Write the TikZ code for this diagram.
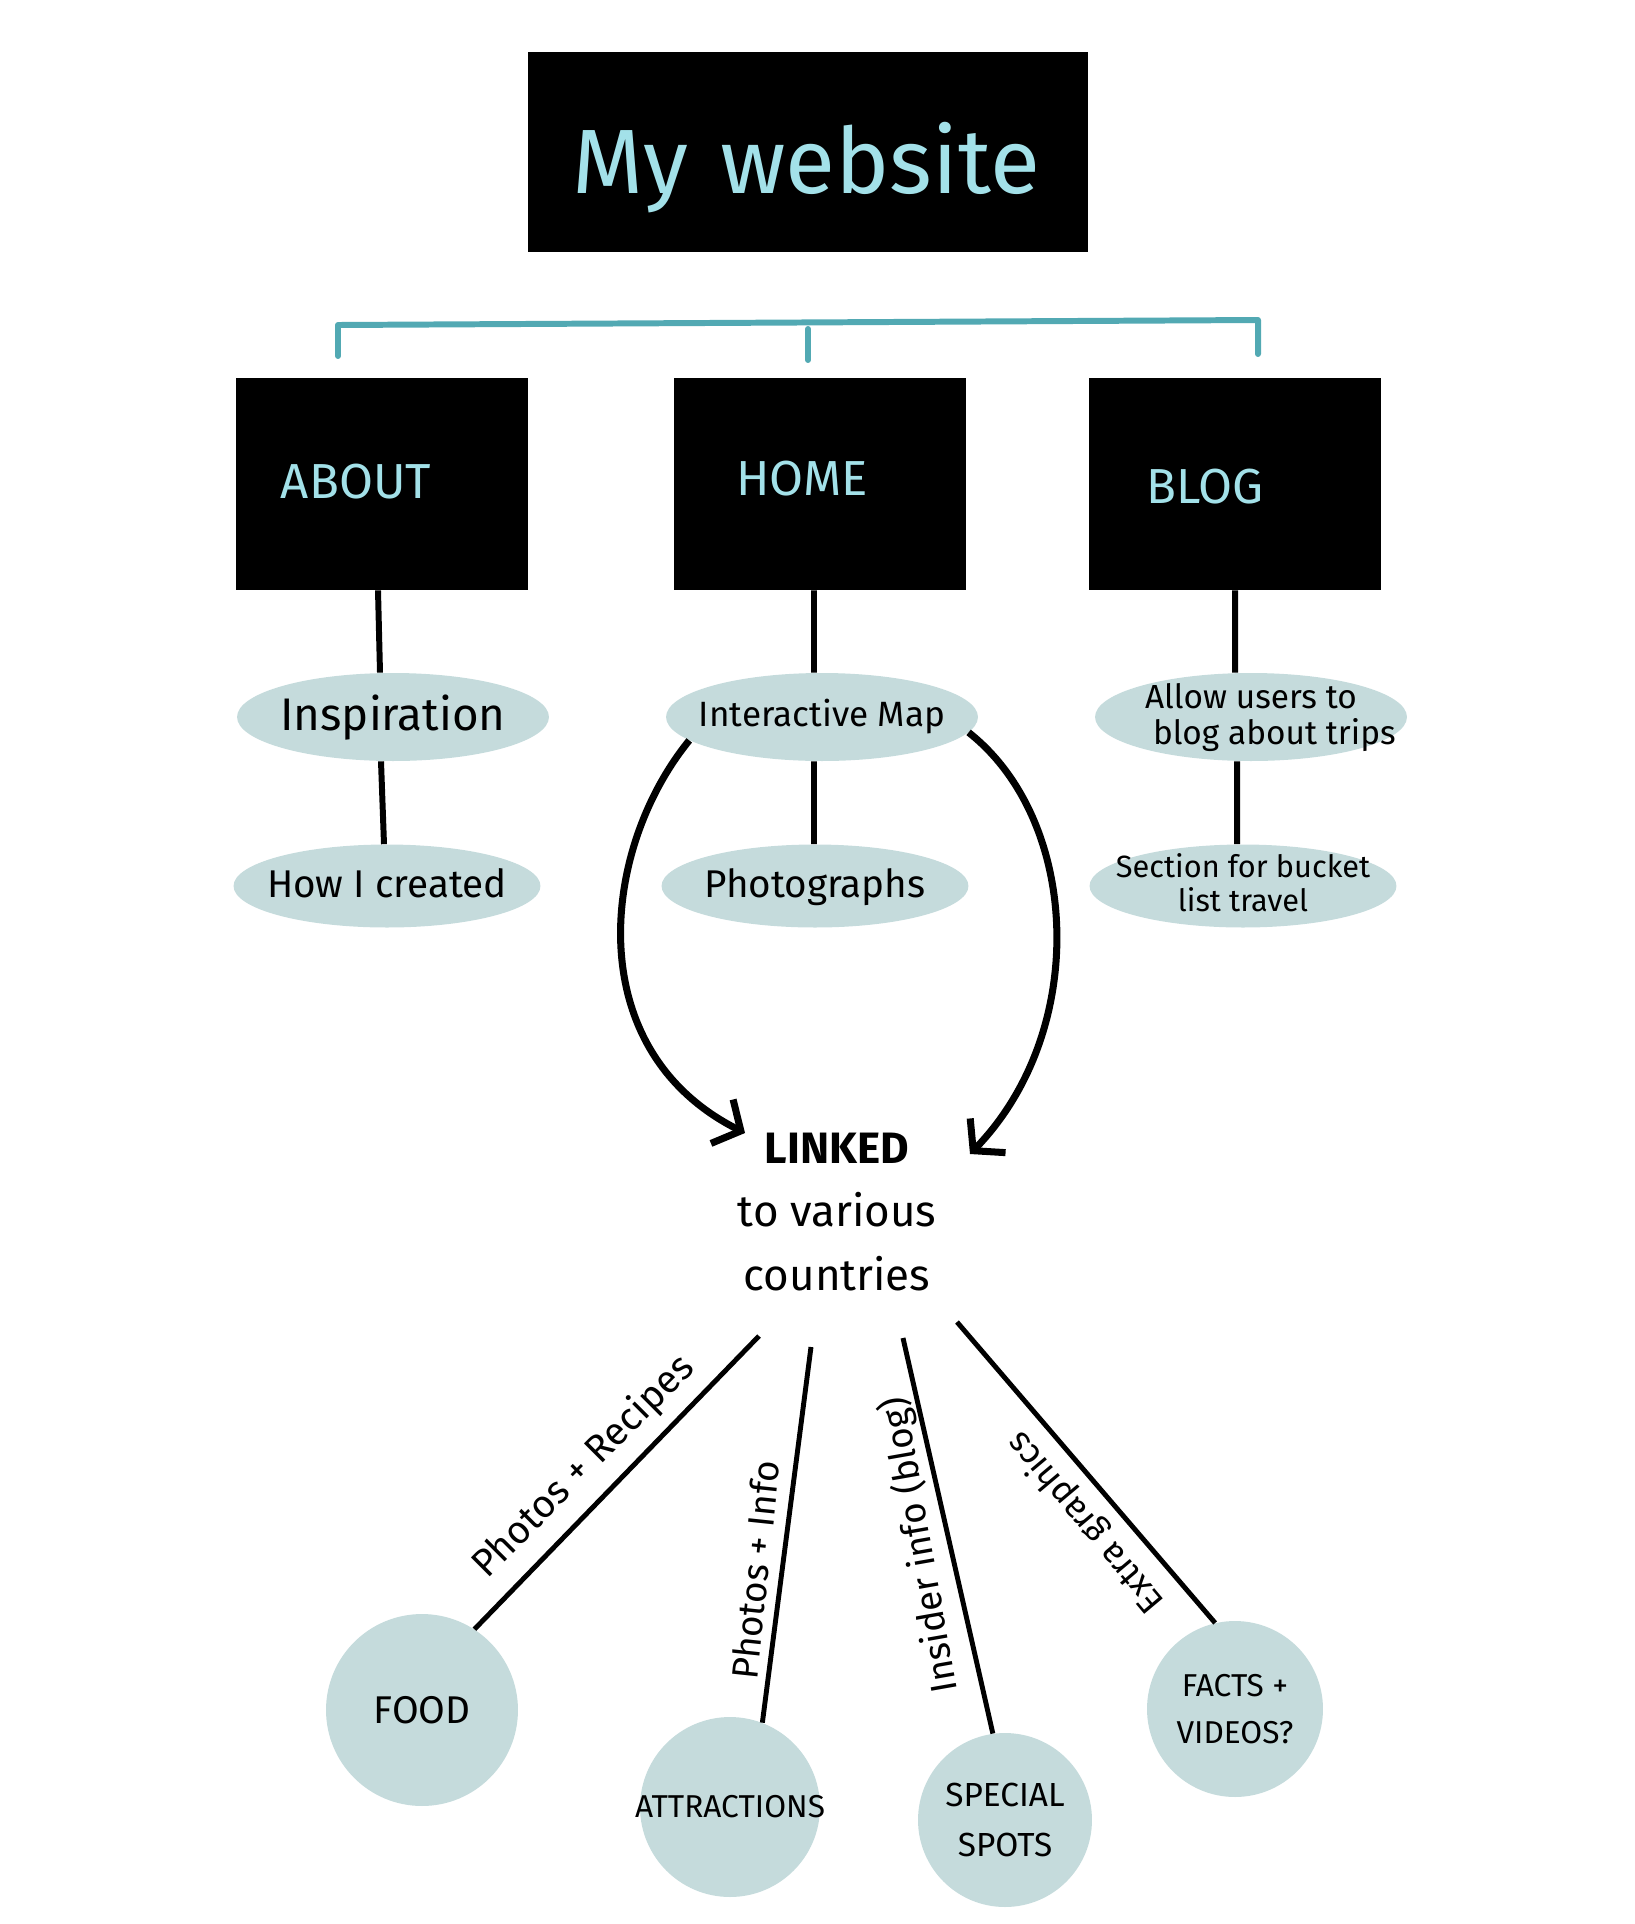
\documentclass[tikz,border=0pt]{standalone}
\usepackage{fontspec}
\setmainfont{Fira Sans}
\usetikzlibrary{shapes.geometric,arrows.meta}
\definecolor{ovalc}{HTML}{C5DBDC}
\definecolor{titlec}{HTML}{A3E1E9}
\definecolor{tealc}{HTML}{52A9B3}
\newcommand{\fs}[1]{\fontsize{#1}{#1}\selectfont}
% text that does not enlarge its shape
\newcommand{\zt}[1]{\smash{\makebox[0pt]{\raisebox{-0.3em}{\begin{tabular}{@{}c@{}}#1\end{tabular}}}}}
\begin{document}
\begin{tikzpicture}[x=0.02cm,y=-0.02cm,
  blackbox/.style={fill=black, draw=none, inner sep=0pt, minimum width=5.84cm, minimum height=4.24cm},
  boxtext/.style={text=titlec, font=\fs{28}, inner sep=0pt},
  oval/.style={ellipse, fill=ovalc, draw=none, inner sep=0pt, align=center},
  ball/.style={circle, fill=ovalc, draw=none, inner sep=0pt, align=center},
  conn/.style={line width=3.4pt},
  spoke/.style={line width=2.8pt},
  bracket/.style={line width=3.4pt, draw=tealc, line cap=round, line join=round},
  bigarrow/.style={line width=4pt, -{Straight Barb[length=12pt,width=28pt]}},
  lab/.style={inner sep=0pt}
]
\useasboundingbox (0,0) rectangle (1635,1924);

% title
\node[fill=black, inner sep=0pt, minimum width=11.22cm, minimum height=4.02cm] (title) at (808,152) {};
\node[text=titlec, font=\fs{52}, inner sep=0pt] (titleT) at (806,168) {My\hspace{0.35em}website};

% bracket
\coordinate (bl) at (338,325);
\coordinate (br) at (1258,320);
\coordinate (bm) at (808,329);
\draw[bracket] (338,356) -- (bl) -- (br) -- (1258,354);
\draw[bracket] (bm) -- (808,360);

% boxes
\node[blackbox] (about) at (382,484) {};
\node[blackbox] (home) at (820,484) {};
\node[blackbox] (blog) at (1235,484) {};
\node[boxtext] (aboutT) at (356,482) {ABOUT};
\node[boxtext] (homeT) at (802,479) {HOME};
\node[boxtext] (blogT) at (1205,487) {BLOG};

% ovals
\node[oval, minimum width=6.24cm, minimum height=1.76cm, font=\fs{26}] (insp) at (393,717) {\zt{Inspiration}};
\node[oval, minimum width=6.14cm, minimum height=1.66cm, font=\fs{22}] (how) at (387,886) {\zt{How I created}};
\node[oval, minimum width=6.24cm, minimum height=1.76cm, font=\fs{20}] (imap) at (822,717) {\zt{Interactive Map}};
\node[oval, minimum width=6.14cm, minimum height=1.66cm, font=\fs{22}] (photo) at (815,886) {\zt{Photographs}};
\node[oval, minimum width=6.24cm, minimum height=1.76cm, font=\fontsize{19}{20}\selectfont] (allow) at (1251,717) {\zt{Allow users to\\ \hspace*{1.4em}blog about trips}};
\node[oval, minimum width=6.14cm, minimum height=1.66cm, font=\fontsize{17.5}{18.5}\selectfont] (section) at (1243,886) {\zt{Section for bucket\\ list travel}};

% vertical connectors
\draw[conn] ([xshift=-0.08cm]about.south) -- ([xshift=-0.26cm]insp.north);
\draw[conn] ([xshift=-0.24cm]insp.south) -- ([xshift=-0.06cm]how.north);
\draw[conn] ([xshift=-0.12cm]home.south) -- ([xshift=-0.16cm]imap.north);
\draw[conn] ([xshift=-0.16cm]imap.south) -- ([xshift=-0.02cm]photo.north);
\draw[conn] (blog.south) -- ([xshift=-0.32cm]allow.north);
\draw[conn] ([xshift=-0.28cm]allow.south) -- ([xshift=-0.12cm]section.north);

% linked text
\node[align=center, inner sep=0pt, font=\fontsize{25}{36}\selectfont] (linked) at (837,1212) {\textbf{LINKED}\\to various\\countries};

% curved arrows
\coordinate (aL) at (745,1133);
\coordinate (aR) at (970,1154);
\draw[bigarrow] (imap.190) .. controls (600,850) and (580,1050) .. (aL);
\draw[bigarrow] (imap.354) .. controls (1080,820) and (1090,1030) .. (aR);

% circles
\node[ball, minimum size=3.84cm, font=\fs{22}] (food) at (422,1710) {FOOD};
\node[ball, minimum size=3.6cm, font=\fs{18}] (attr) at (730,1807) {\makebox[0pt]{ATTRACTIONS}};
\node[ball, minimum size=3.48cm, font=\fontsize{19}{28}\selectfont] (spec) at (1005,1820) {SPECIAL\\SPOTS};
\node[ball, minimum size=3.52cm, font=\fontsize{18}{27}\selectfont] (facts) at (1235,1709) {FACTS +\\VIDEOS?};

% spokes
\coordinate (s1) at (759,1336);
\coordinate (s2) at (811,1347);
\coordinate (s3) at (903,1338);
\coordinate (s4) at (957,1322);
\draw[spoke] (s1) -- (food.57);
\draw[spoke] (s2) -- (attr.69);
\draw[spoke] (s3) -- (spec.98);
\draw[spoke] (s4) -- (facts.103);

% spoke labels
\node[lab, rotate=45, font=\fs{22}] (l1) at (584,1467) {Photos + Recipes};
\node[lab, rotate=84, font=\fs{21}] (l2) at (755,1570) {Photos + Info};
\node[lab, rotate=100, font=\fs{21}] (l3) at (920,1545) {Insider info (blog)};
\node[lab, rotate=130, font=\fs{20}] (l4) at (1086,1522) {Extra graphics};
\end{tikzpicture}
\end{document}
